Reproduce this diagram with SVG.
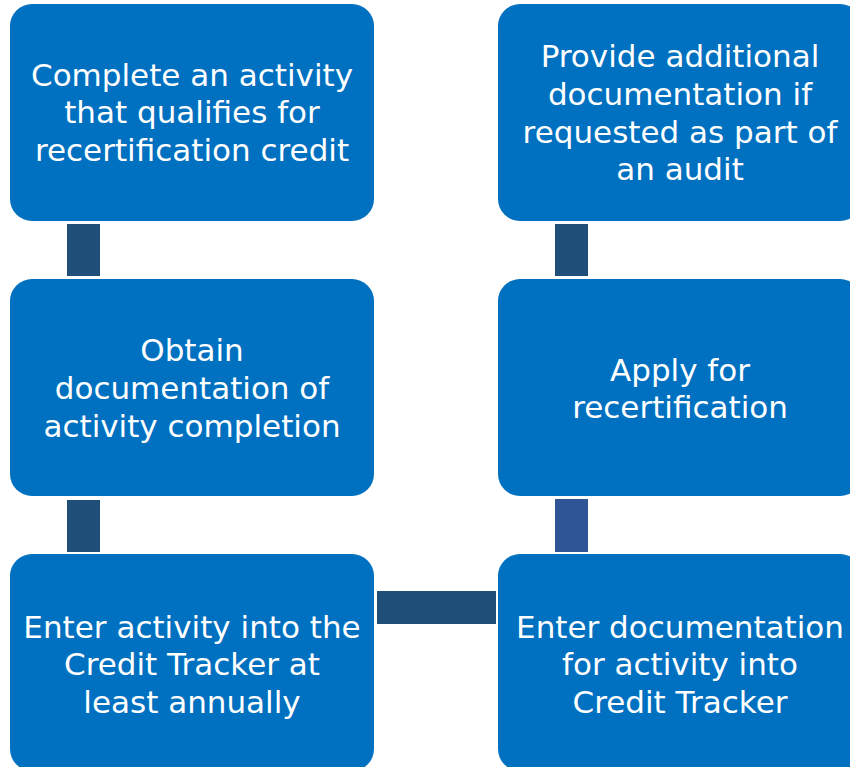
<svg xmlns="http://www.w3.org/2000/svg" width="850" height="767" viewBox="0 0 850 767">
<style>
.box{fill:#0070C0;}
.c{fill:#1F4E79;}
.t{font-family:"DejaVu Sans","Liberation Sans",sans-serif;font-size:31px;fill:#FFFFFF;text-anchor:middle;}
</style>
<rect width="850" height="767" fill="#FFFFFF"/>
<g id="connectors">
<rect class="c" x="67" y="224" width="33" height="52"/>
<rect class="c" x="67" y="500" width="33" height="52"/>
<rect class="c" x="377" y="591" width="119" height="33"/>
<rect x="555" y="499" width="33" height="53" fill="#2F5597"/>
<rect class="c" x="555" y="224" width="33" height="52"/>
</g>
<g id="n1">
<rect class="box" x="10" y="4" width="364" height="217" rx="22"/>
<text class="t"><tspan x="192" y="86">Complete an activity</tspan><tspan x="192" y="123">that qualifies for</tspan><tspan x="192" y="161">recertification credit</tspan></text>
</g>
<g id="n2">
<rect class="box" x="10" y="279" width="364" height="217" rx="22"/>
<text class="t"><tspan x="192" y="361">Obtain</tspan><tspan x="192" y="399">documentation of</tspan><tspan x="192" y="437">activity completion</tspan></text>
</g>
<g id="n3">
<rect class="box" x="10" y="554" width="364" height="217" rx="22"/>
<text class="t"><tspan x="192" y="638">Enter activity into the</tspan><tspan x="192" y="675">Credit Tracker at</tspan><tspan x="192" y="713">least annually</tspan></text>
</g>
<g id="n4">
<rect class="box" x="498" y="554" width="364" height="217" rx="22"/>
<text class="t"><tspan x="680" y="638">Enter documentation</tspan><tspan x="680" y="675">for activity into</tspan><tspan x="680" y="713">Credit Tracker</tspan></text>
</g>
<g id="n5">
<rect class="box" x="498" y="279" width="364" height="217" rx="22"/>
<text class="t"><tspan x="680" y="381">Apply for</tspan><tspan x="680" y="418">recertification</tspan></text>
</g>
<g id="n6">
<rect class="box" x="498" y="4" width="364" height="217" rx="22"/>
<text class="t"><tspan x="680" y="67">Provide additional</tspan><tspan x="680" y="105">documentation if</tspan><tspan x="680" y="143">requested as part of</tspan><tspan x="680" y="180">an audit</tspan></text>
</g>
</svg>
